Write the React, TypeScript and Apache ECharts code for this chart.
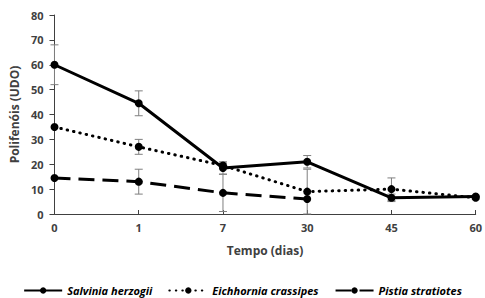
import React, { useEffect, useRef } from "react";
import * as echarts from "echarts";

const categories = ["0", "1", "7", "30", "45", "60"];
const salvinia = [60, 44.5, 18.5, 21, 6.5, 7];
const salviniaErr = [8, 5, 2.5, 2.5, 1.5, 0.5];
const eichhornia = [35, 27, 19.5, 9, 10, 6.5];
const eichhorniaErr = [0, 3, 1, 9, 4.5, 0.5];
const pistia: (number | null)[] = [14.5, 13, 8.5, 6, null, null];
const pistiaErr = [0, 5, 7.5, 0, 0, 0];

const seriesNames = ["Salvinia herzogii", "Eichhornia crassipes", "Pistia stratiotes"];

function errData(vals: (number | null)[], errs: number[]) {
  const out: number[][] = [];
  vals.forEach((v, i) => {
    if (v != null && errs[i] > 0) out.push([i, v - errs[i], v + errs[i]]);
  });
  return out;
}

export default function App() {
  const ref = useRef<HTMLDivElement>(null);
  useEffect(() => {
    document.body.style.margin = "0";
    const chart = echarts.init(ref.current!, null, { renderer: "svg" });
    const textColor = "#404040";
    const font = "Open Sans";
    const renderErr = (params: any, api: any) => {
      const x = api.value(0);
      const lo = api.coord([x, api.value(1)]);
      const hi = api.coord([x, api.value(2)]);
      const w = 4;
      const style = { stroke: "#7f7f7f", lineWidth: 1 };
      return {
        type: "group",
        children: [
          { type: "line", shape: { x1: lo[0], y1: lo[1], x2: hi[0], y2: hi[1] }, style },
          { type: "line", shape: { x1: lo[0] - w, y1: lo[1], x2: lo[0] + w, y2: lo[1] }, style },
          { type: "line", shape: { x1: hi[0] - w, y1: hi[1], x2: hi[0] + w, y2: hi[1] }, style },
        ],
      };
    };
    const lineCommon = {
      type: "line",
      symbol: "circle",
      symbolSize: 8,
      itemStyle: { color: "#000" },
      z: 3,
    };
    chart.setOption({
      animation: false,
      textStyle: { fontFamily: font },
      grid: { left: 50, right: 5, top: 15, bottom: 84 },
      xAxis: {
        type: "category",
        data: categories,
        boundaryGap: false,
        name: "Tempo (dias)",
        nameLocation: "middle",
        nameGap: 30,
        nameTextStyle: { color: textColor, fontWeight: "bold", fontSize: 12, fontFamily: font },
        axisLine: { lineStyle: { color: "#404040", width: 1 } },
        axisTick: { inside: true, length: 4, lineStyle: { color: "#404040" } },
        axisLabel: { color: textColor, fontWeight: "bold", fontSize: 11, margin: 8, fontFamily: font },
      },
      yAxis: {
        type: "value",
        min: 0,
        max: 80,
        interval: 10,
        name: "Polifenóis (UDO)",
        nameLocation: "middle",
        nameGap: 26,
        nameTextStyle: { color: textColor, fontWeight: "bold", fontSize: 12, fontFamily: font },
        axisLine: { show: true, lineStyle: { color: "#404040", width: 1 } },
        axisTick: { show: true, length: 5, lineStyle: { color: "#404040" } },
        splitLine: { show: false },
        axisLabel: { color: textColor, fontWeight: "bold", fontSize: 11, margin: 11, fontFamily: font },
      },
      legend: {
        top: 280,
        left: "center",
        itemWidth: 38,
        itemHeight: 8,
        itemGap: 16,
        data: seriesNames,
        textStyle: { color: "#000", fontStyle: "italic", fontWeight: "bold", fontSize: 11, fontFamily: font },
      },
      series: [
        {
          ...lineCommon,
          name: seriesNames[0],
          data: salvinia,
          lineStyle: { color: "#000", width: 3, type: "solid" },
        },
        {
          ...lineCommon,
          name: seriesNames[1],
          data: eichhornia,
          lineStyle: { color: "#000", width: 3, type: [0.5, 6], cap: "round" },
        },
        {
          ...lineCommon,
          name: seriesNames[2],
          data: pistia,
          lineStyle: { color: "#000", width: 3, type: [16, 8] },
        },
        { type: "custom", renderItem: renderErr, data: errData(salvinia, salviniaErr), z: 2, silent: true },
        { type: "custom", renderItem: renderErr, data: errData(eichhornia, eichhorniaErr), z: 2, silent: true },
        { type: "custom", renderItem: renderErr, data: errData(pistia, pistiaErr), z: 2, silent: true },
      ],
    });
    return () => chart.dispose();
  }, []);
  return <div ref={ref} style={{ width: 485, height: 298 }} />;
}
